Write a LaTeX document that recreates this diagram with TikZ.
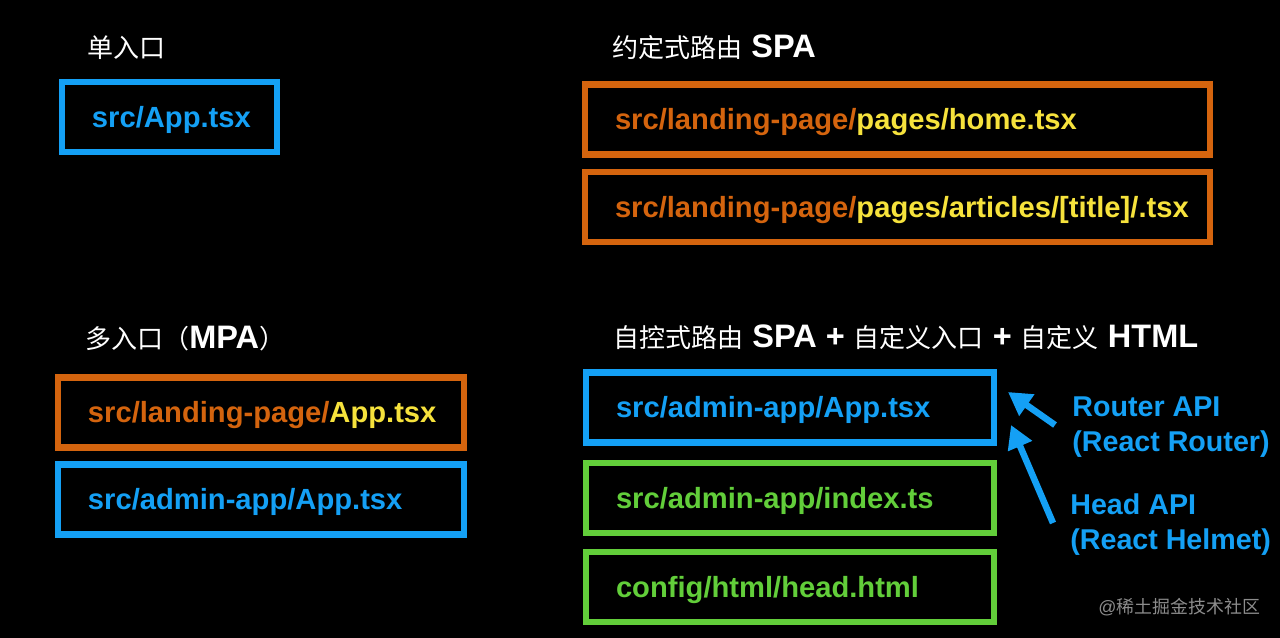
\documentclass[tikz,border=0pt]{standalone}
\usepackage{fontspec}
\setmainfont{Liberation Sans}
\newfontfamily\cjk{Noto Sans CJK SC}[Scale=0.8]
\newfontfamily\cjkmark{Noto Sans CJK SC}
\usetikzlibrary{arrows.meta}
\definecolor{cblue}{RGB}{20,160,245}
\definecolor{corange}{RGB}{212,100,14}
\definecolor{cyellow}{RGB}{246,226,60}
\definecolor{cgreen}{RGB}{98,206,58}
\definecolor{cmark}{RGB}{140,140,140}
\tikzset{
    filebox/.style={draw, line width=0.13cm, anchor=west, align=left,
        outer sep=0pt, inner xsep=0.6cm, inner ysep=0pt, minimum height=1.4cm,
        text height=11.9pt, text depth=0pt,
        execute at begin node={\hbox\bgroup}, execute at end node={\egroup},
        text width=#1, font=\bfseries\fontsize{16.6}{19.9}\selectfont}
}
\tikzset{
    heading/.style={anchor=base west, inner sep=0pt, text=white,
        font=\bfseries\fontsize{18.5}{22}\selectfont},
    apilabel/.style={anchor=west, align=left, inner sep=0pt, text=cblue,
        font=\bfseries\fontsize{16.3}{19.9}\selectfont},
    apiarrow/.style={draw=cblue, line width=0.13cm,
        -{Triangle[length=0.46cm, width=0.5cm]}}
}

\begin{document}
\begin{tikzpicture}[x=0.02cm, y=-0.02cm]
    \fill[black] (0,0) rectangle (1280,638);
    \useasboundingbox (0,0) rectangle (1280,638);

    % single entry
    \node (single) at (87,58) [heading] {{\cjk\mdseries 单入口}};
    \node (app) at (62,117) [filebox=3.1cm, draw=cblue, text=cblue] {src/App.tsx};

    % convention routes
    \node (conv) at (612,58) [heading] {{\cjk\mdseries 约定式路由} SPA};
    \node (spaA) at (585,119.5) [filebox=11.3cm, draw=corange, text=corange]
        {src/landing-page/\textcolor{cyellow}{pages/home.tsx}};
    \node (spaB) at (585,207) [filebox=11.3cm, draw=corange, text=corange]
        {src/landing-page/\textcolor{cyellow}{pages/articles/[title]/.tsx}};

    % multi entry
    \node (multi) at (85,348) [heading] {{\cjk\mdseries 多入口（}MPA{\cjk\mdseries ）}};
    \node (mpaA) at (58,412.5) [filebox=6.92cm, draw=corange, text=corange]
        {src/landing-page/\textcolor{cyellow}{App.tsx}};
    \node (mpaB) at (58,499.5) [filebox=6.92cm, draw=cblue, text=cblue]
        {src/admin-app/App.tsx};

    % own routes
    \node (ctl) at (613,347) [heading]
        {{\cjk\mdseries 自控式路由} SPA + {\cjk\mdseries 自定义入口} + {\cjk\mdseries 自定义} HTML};
    \node (ctlA) at (586,407.5) [filebox=6.96cm, draw=cblue, text=cblue]
        {src/admin-app/App.tsx};
    \node (ctlB) at (586,498) [filebox=6.96cm, draw=cgreen, text=cgreen]
        {src/admin-app/index.ts};
    \node (ctlC) at (586,587) [filebox=6.96cm, draw=cgreen, text=cgreen]
        {config/html/head.html};

    \node (router) at (1072,427) [apilabel] {Router API\\(React Router)};
    \node (head) at (1070,525) [apilabel] {Head API\\(React Helmet)};

    \coordinate (rtip) at (1008,392);
    \coordinate (htip) at (1011,425);
    \draw[apiarrow] ([xshift=-0.34cm, yshift=0.04cm]router.west) -- (rtip);
    \draw[apiarrow] ([xshift=-0.34cm, yshift=0.04cm]head.west) -- (htip);

    \node (mark) at (1098,613) [anchor=base west, inner sep=0pt, text=cmark,
        font=\fontsize{10.2}{12}\selectfont] {@{\cjkmark 稀土掘金技术社区}};
\end{tikzpicture}
\end{document}
